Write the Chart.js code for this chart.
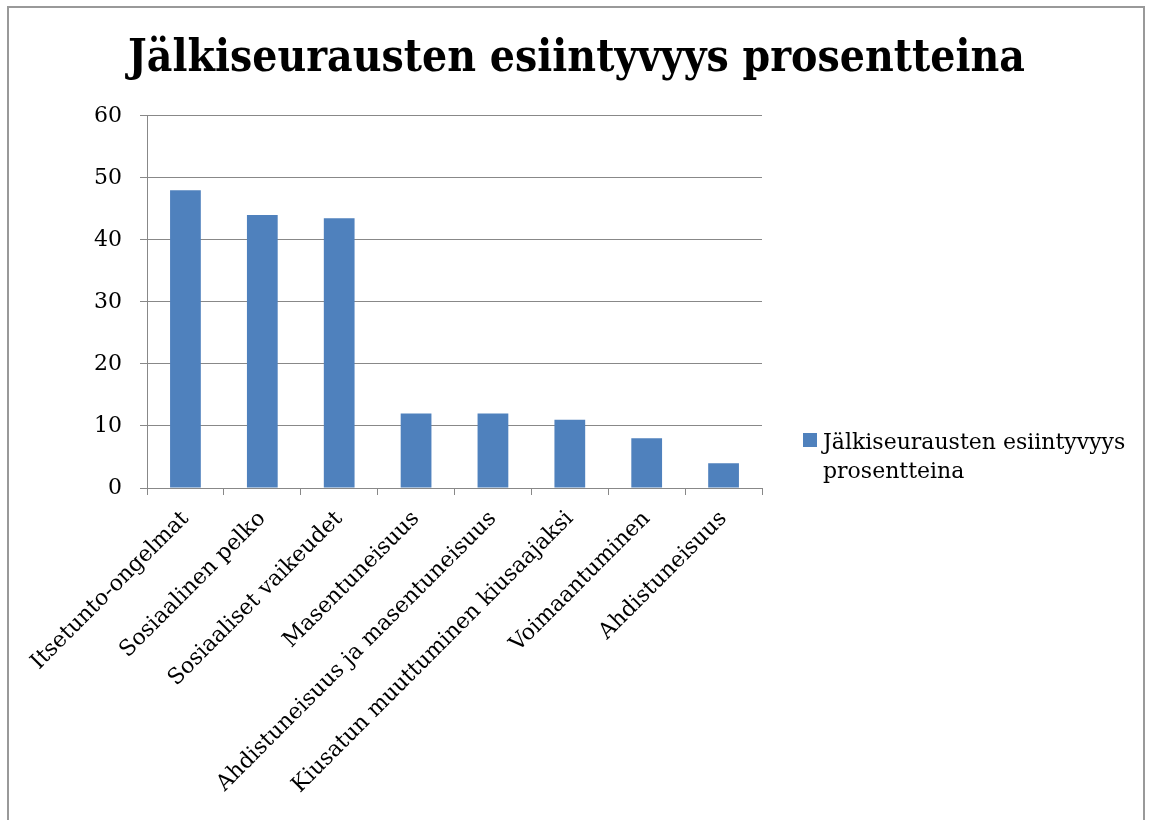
<!DOCTYPE html>
<html>
<head>
<meta charset="utf-8">
<script src="https://cdn.jsdelivr.net/npm/chart.js@4.4.0/dist/chart.umd.min.js"></script>
<style>
  body { margin: 0; background: #fff; }
  .wrap { position: relative; width: 1153px; height: 820px; overflow: hidden; }
  .frame { position: absolute; left: 7px; top: 6px; width: 1138px; height: 830px; border: 2px solid #999; box-sizing: border-box; pointer-events: none; }
  canvas { position: absolute; left: 0; top: 0; }
</style>
</head>
<body>
<div class="wrap">
  <canvas id="myChart" width="1153" height="820"></canvas>
  <div class="frame"></div>
</div>
<script>
const chartTitle = 'Jälkiseurausten esiintyvyys prosentteina';
const seriesName = 'Jälkiseurausten esiintyvyys prosentteina';
const categories = [
  'Itsetunto-ongelmat',
  'Sosiaalinen pelko',
  'Sosiaaliset vaikeudet',
  'Masentuneisuus',
  'Ahdistuneisuus ja masentuneisuus',
  'Kiusatun muuttuminen kiusaajaksi',
  'Voimaantuminen',
  'Ahdistuneisuus',
];
const values = [48, 44, 43.5, 12, 12, 11, 8, 4];
const yTicks = [0, 10, 20, 30, 40, 50, 60];

const serif = "'DejaVu Serif', 'Liberation Serif', serif";
const titleFont = "'DejaVu Serif Condensed', 'DejaVu Serif', serif";

// right-hand legend as its own layout box, so the title stays centred on the whole canvas
const sideLegend = {
  id: 'sideLegend',
  beforeInit(chart) {
    const box = {
      position: 'right',
      weight: 10,
      fullSize: false,
      options: {},
      width: 391,
      height: 0,
      isHorizontal() { return false; },
      update(maxWidth, maxHeight) { this.width = 391; this.height = maxHeight; },
      draw() {
        const ctx = chart.ctx;
        const ds = chart.data.datasets[0];
        ctx.save();
        ctx.font = '22px ' + serif;
        ctx.fillStyle = ds.backgroundColor;
        ctx.fillRect(803, 433, 14, 14);
        const words = ds.label.split(' ');
        const lines = [];
        let line = '';
        words.forEach(w => {
          const test = line ? line + ' ' + w : w;
          if (ctx.measureText(test).width > 320 && line) {
            lines.push(line);
            line = w;
          } else {
            line = test;
          }
        });
        lines.push(line);
        ctx.fillStyle = '#000';
        ctx.textBaseline = 'alphabetic';
        lines.forEach((l, i) => ctx.fillText(l, 823, 449 + i * 29));
        ctx.restore();
      },
    };
    Chart.layouts.addBox(chart, box);
  }
};

const ctx = document.getElementById('myChart').getContext('2d');
new Chart(ctx, {
  type: 'bar',
  data: {
    labels: categories,
    datasets: [{
      label: seriesName,
      data: values,
      backgroundColor: '#4F81BD',
      borderWidth: 0,
      barPercentage: 0.4,
      categoryPercentage: 1.0,
    }],
  },
  options: {
    responsive: false,
    animation: false,
    layout: { padding: 0 },
    plugins: {
      legend: { display: false },
      tooltip: { enabled: false },
      title: {
        display: true,
        text: chartTitle,
        color: '#000',
        font: { family: titleFont, size: 44, weight: 'bold', lineHeight: 1.2 },
        padding: { top: 33, bottom: 30 },
      },
    },
    scales: {
      x: {
        grid: { display: true, drawOnChartArea: false, color: '#888', tickLength: 7, offset: true },
        border: { color: '#888', width: 1 },
        ticks: {
          color: '#000',
          font: { family: serif, size: 22 },
          maxRotation: 45,
          minRotation: 45,
          padding: 11,
          autoSkip: false,
        },
        afterFit(scale) { scale.height = 820 - 488; },
      },
      y: {
        min: 0,
        max: 60,
        afterBuildTicks(scale) { scale.ticks = yTicks.map(v => ({ value: v })); },
        grid: { color: '#888', tickLength: 7 },
        border: { color: '#888', width: 1 },
        ticks: {
          color: '#000',
          font: { family: serif, size: 22 },
          padding: 18,
        },
        afterFit(scale) { scale.width = 147; },
      },
    },
  },
  plugins: [sideLegend],
});
</script>
</body>
</html>
